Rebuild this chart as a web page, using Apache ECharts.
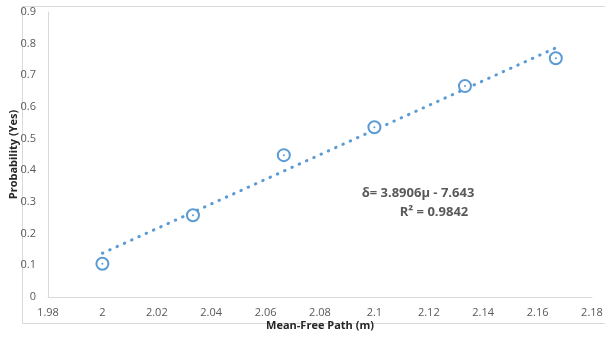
<!DOCTYPE html>
<html>
<head>
<meta charset="utf-8">
<script src="https://cdn.jsdelivr.net/npm/echarts@6/dist/echarts.min.js"></script>
<style>
html,body{margin:0;padding:0;background:#fff;}
#chart{width:605px;height:338px;}
</style>
</head>
<body>
<div id="chart"></div>
<script>
const xValues = [2, 2.0333, 2.0667, 2.1, 2.1333, 2.1667];
const yValues = [0.105, 0.258, 0.448, 0.536, 0.666, 0.754];
const trendSlope = 3.8906;
const trendIntercept = -7.643;
const equationLines = ['δ= 3.8906μ - 7.643', 'R² = 0.9842'];
const xAxisTitle = 'Mean-Free Path (m)';
const yAxisTitle = 'Probability (Yes)';

const pts = xValues.map((x, i) => [x, yValues[i]]);
const trendX = [xValues[0], xValues[xValues.length - 1]];
const trendPts = trendX.map(x => [x, trendSlope * x + trendIntercept]);

const FONT = '"Open Sans", "Liberation Sans", sans-serif';
const chart = echarts.init(document.getElementById('chart'), null, {renderer: 'canvas'});
chart.setOption({
  animation: false,
  backgroundColor: '#fff',
  grid: {left: 48, right: 13, top: 12, bottom: 41, containLabel: false, outerBoundsMode: 'none'},
  xAxis: {
    type: 'value', min: 1.98, max: 2.18, interval: 0.02,
    name: xAxisTitle, nameLocation: 'middle', nameGap: 23, nameMoveOverlap: false,
    nameTextStyle: {fontFamily: FONT, fontSize: 11, fontWeight: 'bold', color: '#262626'},
    axisLine: {show: true, lineStyle: {color: '#D9D9D9', width: 1}},
    axisTick: {show: false},
    splitLine: {show: false},
    axisLabel: {fontFamily: FONT, fontSize: 11, color: '#595959', margin: 10,
      formatter: v => String(parseFloat(v.toFixed(2)))}
  },
  yAxis: {
    type: 'value', min: 0, max: 0.9, interval: 0.1,
    name: yAxisTitle, nameLocation: 'middle', nameGap: 29, nameRotate: 90, nameMoveOverlap: false,
    nameTextStyle: {fontFamily: FONT, fontSize: 11, fontWeight: 'bold', color: '#262626'},
    axisLine: {show: true, lineStyle: {color: '#D9D9D9', width: 1}},
    axisTick: {show: false},
    splitLine: {show: false},
    axisLabel: {fontFamily: FONT, fontSize: 11, color: '#595959', margin: 12,
      formatter: v => String(parseFloat(v.toFixed(1)))}
  },
  graphic: [
    {type: 'rect', left: 20, top: 4, shape: {width: 600, height: 317},
      style: {fill: 'none', stroke: '#D9D9D9', lineWidth: 1}, silent: true, z: -1},
    {type: 'text', x: 418, y: 193, style: {text: equationLines[0], fontFamily: FONT, fontSize: 13, fontWeight: 'bold', fill: '#595959', textAlign: 'center', textVerticalAlign: 'middle'}},
    {type: 'text', x: 434, y: 212, style: {text: equationLines[1], fontFamily: FONT, fontSize: 13, fontWeight: 'bold', fill: '#595959', textAlign: 'center', textVerticalAlign: 'middle'}}
  ],
  series: [
    {
      type: 'line', data: trendPts, showSymbol: false, symbol: 'none',
      lineStyle: {color: '#5B9BD5', width: 3, type: [0.5, 7.5], cap: 'round'},
      z: 2
    },
    {
      type: 'scatter', data: pts, symbol: 'circle', symbolSize: 12,
      itemStyle: {color: '#fff', opacity: 1, borderColor: '#5B9BD5', borderWidth: 2},
      z: 3
    },
    {
      type: 'scatter', data: pts, symbol: 'circle', symbolSize: 2,
      itemStyle: {color: '#5B9BD5', opacity: 1},
      z: 4
    }
  ]
});
</script>
</body>
</html>
